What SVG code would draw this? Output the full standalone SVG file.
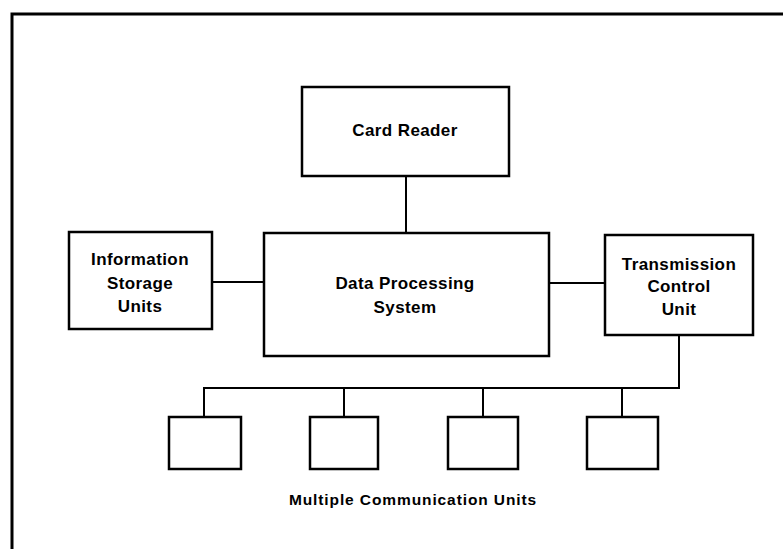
<svg xmlns="http://www.w3.org/2000/svg" width="783" height="549" viewBox="0 0 783 549">
<style>
.box{fill:#fff;stroke:#000;stroke-width:2.5}
.ln{fill:none;stroke:#000;stroke-width:2}
.frame{fill:none;stroke:#000;stroke-width:3}
text{font-family:"Liberation Sans",Arial,sans-serif;font-weight:bold;font-size:17px;letter-spacing:0.4px;text-anchor:middle;fill:#000}
</style>
<rect width="783" height="549" fill="#fff"/>
<path class="frame" d="M12,560 V14 H790"/>
<g id="connectors">
<path class="ln" d="M406,176 V233"/>
<path class="ln" d="M212,282 H264"/>
<path class="ln" d="M549,283 H605"/>
<path class="ln" d="M679,335 V388 H204 V417"/>
<path class="ln" d="M344,388 V417"/>
<path class="ln" d="M483,388 V417"/>
<path class="ln" d="M622,388 V417"/>
</g>
<g id="card-reader">
<rect class="box" x="302" y="87" width="207" height="89"/>
<text x="405" y="136">Card Reader</text>
</g>
<g id="data-processing">
<rect class="box" x="264" y="233" width="285" height="123"/>
<text x="405" y="289">Data Processing</text>
<text x="405" y="313">System</text>
</g>
<g id="info-storage">
<rect class="box" x="69" y="232" width="143" height="97"/>
<text x="140" y="265">Information</text>
<text x="140" y="289">Storage</text>
<text x="140" y="312">Units</text>
</g>
<g id="tcu">
<rect class="box" x="605" y="235" width="148" height="100"/>
<text x="679" y="270">Transmission</text>
<text x="679" y="292">Control</text>
<text x="679" y="315">Unit</text>
</g>
<g id="comm1"><rect class="box" x="169" y="417" width="72" height="52"/></g>
<g id="comm2"><rect class="box" x="310" y="417" width="68" height="52"/></g>
<g id="comm3"><rect class="box" x="448" y="417" width="70" height="52"/></g>
<g id="comm4"><rect class="box" x="587" y="417" width="71" height="52"/></g>
<g id="label"><text x="413" y="505" style="font-size:15.5px;letter-spacing:0.9px">Multiple Communication Units</text></g>
</svg>
